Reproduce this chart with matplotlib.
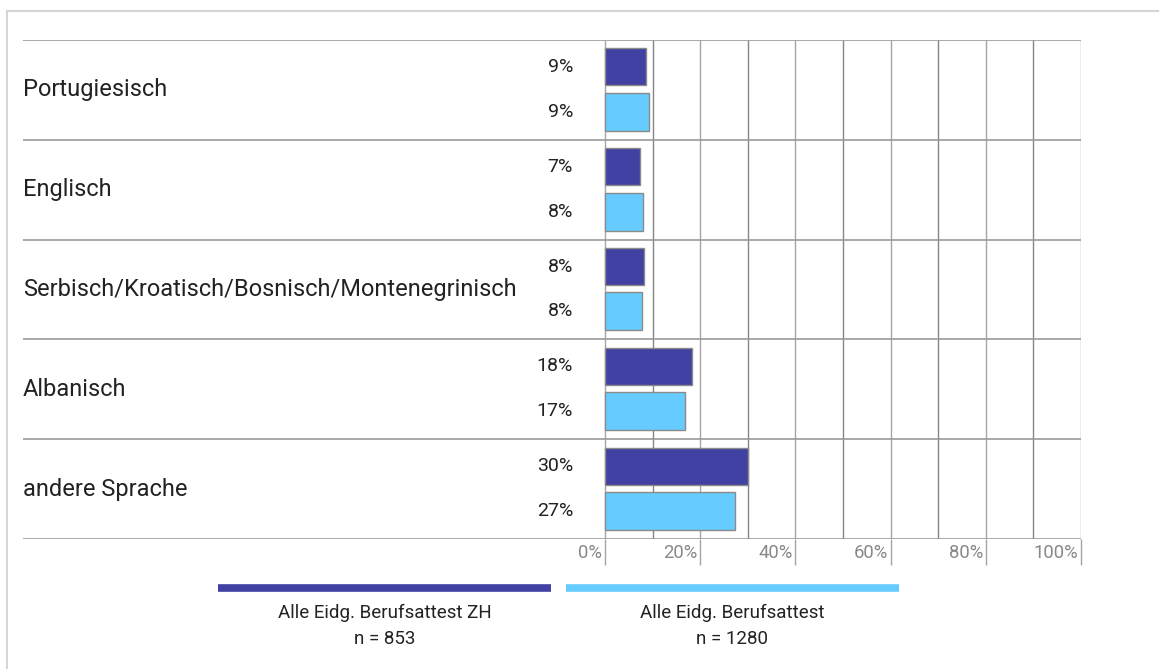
import matplotlib.pyplot as plt
from matplotlib.lines import Line2D

# Daten
sprachen = ["Portugiesisch", "Englisch", "Serbisch/Kroatisch/Bosnisch/Montenegrinisch",
            "Albanisch", "andere Sprache"]
werte_zh = [8.6, 7.4, 8.1, 18.3, 30.0]
werte_alle = [9.2, 7.9, 7.8, 16.8, 27.4]
serien = ["Alle Eidg. Berufsattest ZH", "Alle Eidg. Berufsattest"]
n_werte = ["n = 853", "n = 1280"]
x_ticks = [0, 20, 40, 60, 80, 100]

FARBE_ZH = "#4141A3"
FARBE_ALLE = "#66CCFF"
plt.rcParams['font.family'] = ['Roboto', 'DejaVu Sans']

W, H = 1159, 669
fig = plt.figure(figsize=(W / 100, H / 100), dpi=100)

# Rahmen um die ganze Grafik
fig.add_artist(Line2D([7 / W, 1], [1 - 11 / H, 1 - 11 / H], color="#d6d6d6", lw=1.5))
fig.add_artist(Line2D([7 / W, 7 / W], [0, 1 - 11 / H], color="#d6d6d6", lw=1.5))

# Achse: 0% liegt bei x=605px, 100% bei 1081px, links Platz fuer Beschriftungen
x0, x1 = 23, 1081
px_pro_prozent = (1081 - 605) / 100
xmin = -(605 - x0) / px_pro_prozent
ax = fig.add_axes([x0 / W, 1 - 539 / H, (x1 - x0) / W, (539 - 40) / H])
ax.set_xlim(xmin, 100)
ax.set_ylim(len(sprachen), 0)
ax.axis("off")

# Gitterlinien
for v in range(0, 101, 10):
    farbe = "#858585" if v % 20 else "#a5a5a5"
    ax.vlines(v, 0, len(sprachen), color=farbe, lw=1.0, zorder=1)
for v in x_ticks:
    ax.vlines(v, len(sprachen), len(sprachen) + 0.26, color="#a5a5a5", lw=1.0, clip_on=False)
    ax.text(v - 0.6, len(sprachen) + 0.14, f"{v}%", ha="right", va="center",
            fontsize=13.3, color="#888888", clip_on=False)
for i in range(len(sprachen) + 1):
    ax.hlines(i, xmin, 100, color="#999999", lw=1.2, zorder=1)

# Balken
for i, name in enumerate(sprachen):
    ax.barh(i + 0.27, werte_zh[i], height=0.37, color=FARBE_ZH, edgecolor="#8a8a8a",
            lw=1, zorder=3)
    ax.barh(i + 0.72, werte_alle[i], height=0.38, color=FARBE_ALLE, edgecolor="#8a8a8a",
            lw=1, zorder=3)
    ax.text(xmin, i + 0.5, name, ha="left", va="center", fontsize=17, color="#222222")
    ax.text(-6.7, i + 0.27, f"{round(werte_zh[i])}%", ha="right", va="center",
            fontsize=14, color="#222222")
    ax.text(-6.7, i + 0.72, f"{round(werte_alle[i])}%", ha="right", va="center",
            fontsize=14, color="#222222")

# Legende
legende = [(218, 551, FARBE_ZH), (566, 899, FARBE_ALLE)]
for (l, r, farbe), s, n in zip(legende, serien, n_werte):
    fig.add_artist(Line2D([l / W, r / W], [1 - 588 / H, 1 - 588 / H], color=farbe, lw=5.5,
                          solid_capstyle="butt"))
    mitte = (l + r) / 2 / W
    fig.text(mitte, 1 - 613 / H, s, ha="center", va="center", fontsize=13.5, color="#222222")
    fig.text(mitte, 1 - 639 / H, n, ha="center", va="center", fontsize=13.5, color="#222222")

fig.savefig("out.png", dpi=100)
